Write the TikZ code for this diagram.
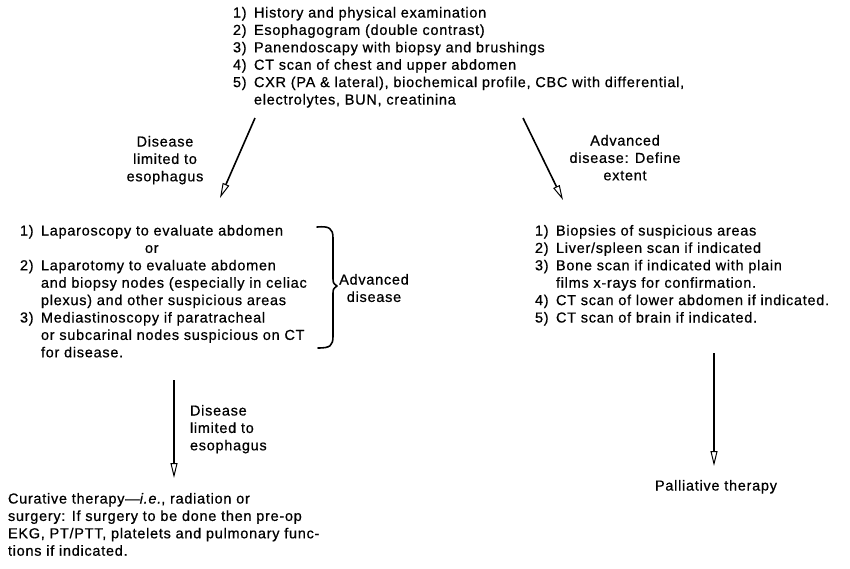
\documentclass[tikz,border=0pt]{standalone}
\usepackage{fontspec}
\setmainfont{Liberation Sans}[LetterSpace=5,FakeBold=0.6]
\usetikzlibrary{arrows.meta}
\newcommand\nb[1]{\makebox[21pt][l]{#1}}
\newcommand\ind{\hspace*{21pt}}
\begin{document}
\begin{tikzpicture}[x=1pt,y=-1pt,
  txt/.style={inner sep=0pt,outer sep=0pt,font=\fontsize{14.5}{17.4}\selectfont},
  lst/.style={txt,align=left,anchor=north west},
  lbl/.style={txt,align=center,anchor=north},
  flow/.style={line width=1.6pt,-{Triangle[open,length=15pt,width=7pt,line width=1pt]}},
  brace/.style={line width=1.6pt,line cap=round,line join=round}]
\useasboundingbox (0,0) rectangle (850,568);
\fill[white] (0,0) rectangle (850,568);

\node[lst] (top) at (233,7) {\nb{1)}History and physical examination\\
\nb{2)}Esophagogram (double contrast)\\
\nb{3)}Panendoscapy with biopsy and brushings\\
\nb{4)}CT scan of chest and upper abdomen\\
\nb{5)}CXR (PA \& lateral), biochemical profile, CBC with differential,\\
\ind electrolytes, BUN, creatinina};

\node[lbl] (lab1) at (165,136) {Disease\\limited to\\esophagus};
\node[lbl] (lab2) at (625,135) {Advanced\\disease: Define\\extent};

\node[lst] (left) at (20,225) {\nb{1)}Laparoscopy to evaluate abdomen\\
\hspace*{125pt}or\\
\nb{2)}Laparotomy to evaluate abdomen\\
\ind and biopsy nodes (especially in celiac\\
\ind plexus) and other suspicious areas\\
\nb{3)}Mediastinoscopy if paratracheal\\
\ind or subcarinal nodes suspicious on CT\\
\ind for disease.};

\node[lbl] (adv) at (374,274) {Advanced\\disease};

\node[lst] (right) at (535,225) {\nb{1)}Biopsies of suspicious areas\\
\nb{2)}Liver/spleen scan if indicated\\
\nb{3)}Bone scan if indicated with plain\\
\ind films x-rays for confirmation.\\
\nb{4)}CT scan of lower abdomen if indicated.\\
\nb{5)}CT scan of brain if indicated.};

\node[lst] (lab3) at (190,405) {Disease\\limited to\\esophagus};

\node[lst] (cur) at (8,493) {Curative therapy---\textit{i.e.}, radiation or\\
surgery: If surgery to be done then pre-op\\
EKG, PT/PTT, platelets and pulmonary func-\\
tions if indicated.};

\node[lbl] (pal) at (716,480) {Palliative therapy};

\coordinate (a1s) at (255,118); \coordinate (a1e) at (220,198);
\coordinate (a2s) at (523,118); \coordinate (a2e) at (563,200);
\coordinate (a3s) at (174,380); \coordinate (a3e) at (174,478);
\coordinate (a4s) at (714,353); \coordinate (a4e) at (714,466);
\draw[flow] (a1s) -- (a1e);
\draw[flow] (a2s) -- (a2e);
\draw[flow] (a3s) -- (a3e);
\draw[flow] (a4s) -- (a4e);

\draw[brace] (317,227) .. controls (329,226) and (333,228) .. (333,238)
  -- (333,277) .. controls (333,283) .. (337,286) .. controls (333,289) .. (333,295)
  -- (333,336) .. controls (333,346) and (330,348) .. (318,348);
\end{tikzpicture}
\end{document}
